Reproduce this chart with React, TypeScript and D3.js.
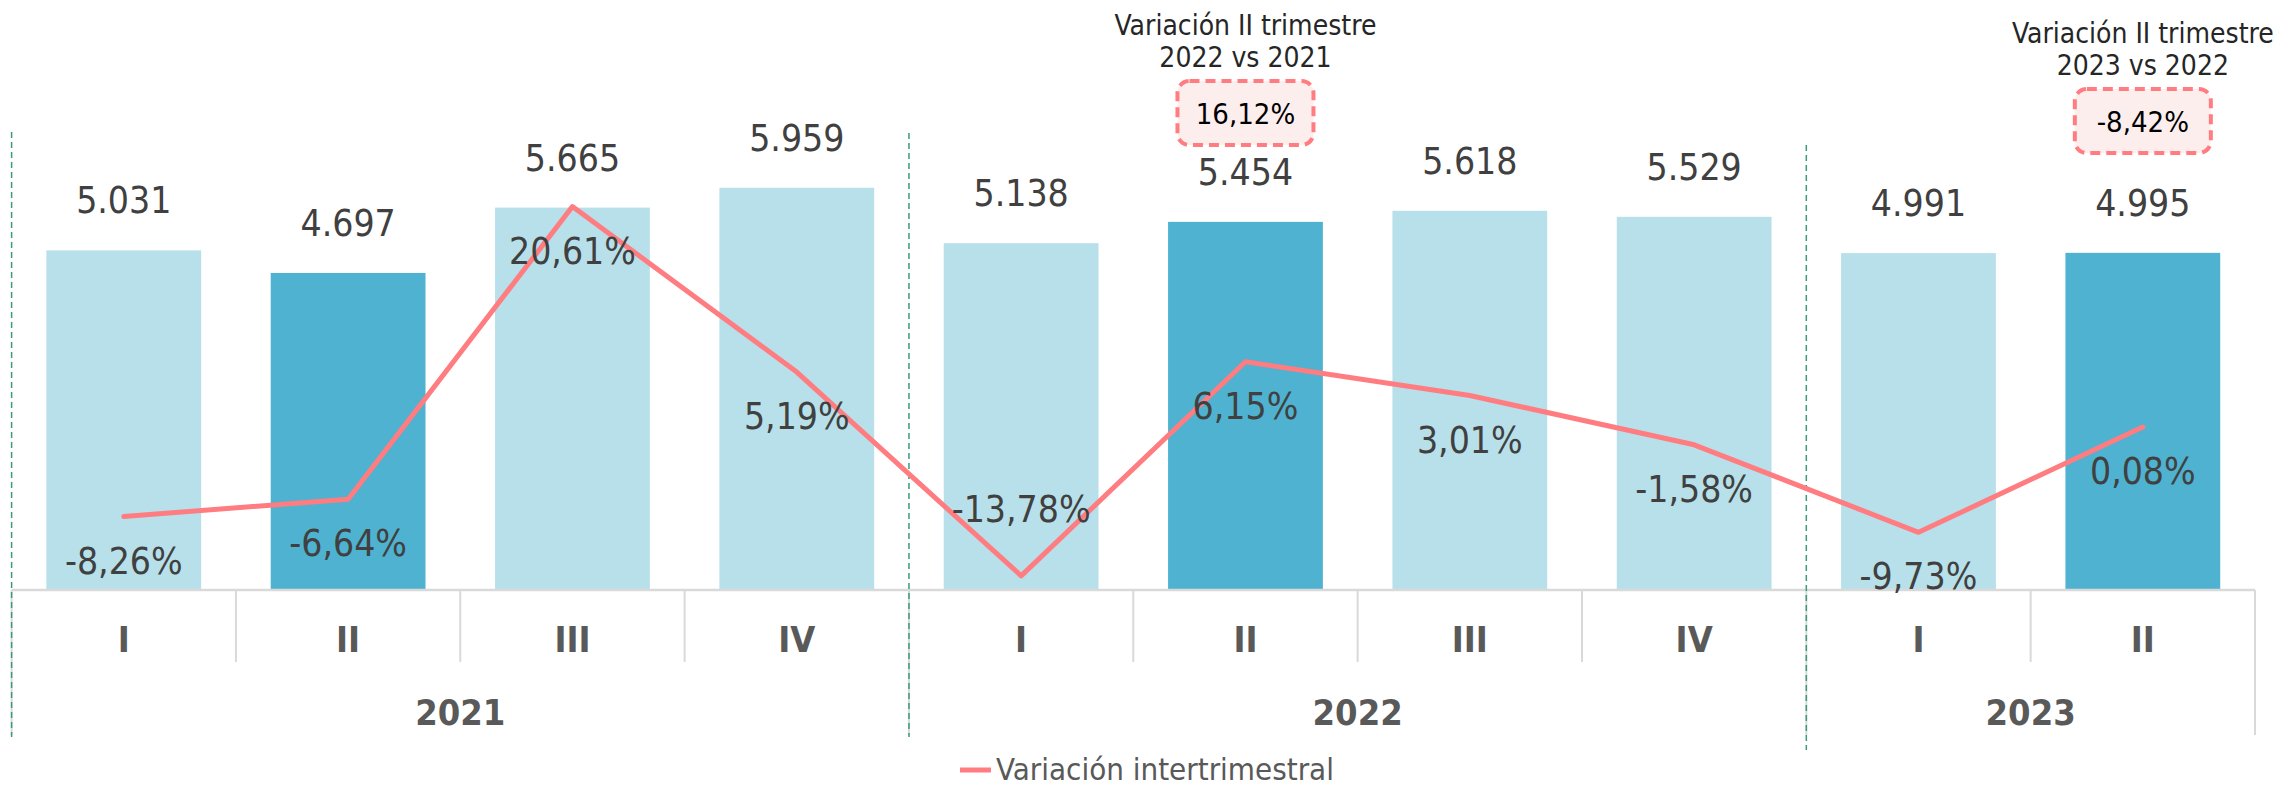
import React from 'react';
import * as d3 from 'd3';

const quarters = ['I', 'II', 'III', 'IV', 'I', 'II', 'III', 'IV', 'I', 'II'];
const years = ['2021', '2022', '2023'];
const yearQuarterCounts = [4, 4, 2];
const values = [5031, 4697, 5665, 5959, 5138, 5454, 5618, 5529, 4991, 4995];
const variation = [-8.26, -6.64, 20.61, 5.19, -13.78, 6.15, 3.01, -1.58, -9.73, 0.08];
const highlighted = [false, true, false, false, false, true, false, false, false, true];
const annotationIndex = [5, 9];
const annotationTitles = [
  ['Variación II trimestre', '2022 vs 2021'],
  ['Variación II trimestre', '2023 vs 2022'],
];
const annotationValues = ['16,12%', '-8,42%'];
const legendLabel = 'Variación intertrimestral';

const W = 2274;
const H = 790;
const LEFT = 11.6;
const RIGHT = 2255;
const AXIS_Y = 590;
const TOP_Y = 117.5;
const FONT = "'Liberation Sans Narrow', 'DejaVu Sans Condensed', 'Arial Narrow', sans-serif";
const LIGHT = '#B8E0EA';
const DARK = '#4EB2D0';
const LINE = '#FF7C80';
const TEXT = '#404040';
const AXIS_TEXT = '#595959';
const GRID = '#D9D9D9';
const GREEN = '#3A9A7E';

const locale = d3.formatLocale({
  decimal: ',',
  thousands: '.',
  grouping: [3],
  currency: ['', '€'],
  minus: '-',
});
const fmtVal = locale.format(',d');
const fmtPct = locale.format(',.2f');

export default function App() {
  const idx = values.map((_, i) => i);
  const x = d3.scaleBand<number>().domain(idx).range([LEFT, RIGHT]).paddingInner(0.31).paddingOuter(0.155);
  const step = x.step();
  const y = d3.scaleLinear().domain([0, 7000]).range([AXIS_Y, TOP_Y]);
  const y2 = d3.scaleLinear().domain([-15.1, 28.9]).range([AXIS_Y, TOP_Y]);
  const cx = (i: number) => (x(i) as number) + x.bandwidth() / 2;

  const linePath = d3
    .line<number>()
    .x((d, i) => cx(i))
    .y((d) => y2(d))(variation) as string;

  const bounds: number[] = [LEFT];
  let acc = 0;
  yearQuarterCounts.forEach((c) => {
    acc += c;
    bounds.push(LEFT + acc * step);
  });

  const annTop = [0, 8];
  const dashedTops = [132, 133, 145];
  const dashedBottoms = [737, 737, 750];

  return (
    <div style={{ position: 'absolute', left: 0, top: 0 }}>
      <svg width={W} height={H} style={{ display: 'block', background: '#fff' }}>
        {values.map((v, i) => (
          <rect
            key={'b' + i}
            x={x(i)}
            y={y(v)}
            width={x.bandwidth()}
            height={AXIS_Y - y(v)}
            fill={highlighted[i] ? DARK : LIGHT}
          />
        ))}
        <line x1={LEFT} x2={RIGHT} y1={AXIS_Y} y2={AXIS_Y} stroke={GRID} strokeWidth={2.5} />
        {idx.slice(1).map((i) => {
          const xx = LEFT + i * step;
          const isBound = bounds.some((b) => Math.abs(b - xx) < 1);
          return isBound ? null : (
            <line key={'t' + i} x1={xx} x2={xx} y1={AXIS_Y} y2={662} stroke={GRID} strokeWidth={2} />
          );
        })}
        {bounds.map((b, i) => (
          <line key={'gb' + i} x1={b} x2={b} y1={AXIS_Y} y2={735} stroke={GRID} strokeWidth={2} />
        ))}
        {bounds.slice(0, 3).map((b, i) => (
          <line
            key={'gd' + i}
            x1={b}
            x2={b}
            y1={dashedTops[i]}
            y2={dashedBottoms[i]}
            stroke={GREEN}
            strokeWidth={1.5}
            strokeDasharray="6 4"
          />
        ))}
        {quarters.map((q, i) => (
          <text
            key={'q' + i}
            x={cx(i)}
            y={652}
            textAnchor="middle"
            fontFamily={FONT}
            fontWeight="bold"
            fontSize={36}
            fill={AXIS_TEXT}
          >
            {q}
          </text>
        ))}
        {years.map((yr, i) => (
          <text
            key={'y' + i}
            x={(bounds[i] + bounds[i + 1]) / 2}
            y={725}
            textAnchor="middle"
            fontFamily={FONT}
            fontWeight="bold"
            fontSize={36}
            fill={AXIS_TEXT}
          >
            {yr}
          </text>
        ))}
        <path d={linePath} fill="none" stroke={LINE} strokeWidth={5} strokeLinejoin="round" strokeLinecap="round" />
        {values.map((v, i) => (
          <text
            key={'v' + i}
            x={cx(i)}
            y={y(v) - 37}
            textAnchor="middle"
            fontFamily={FONT}
            fontSize={37}
            fill={TEXT}
          >
            {fmtVal(v)}
          </text>
        ))}
        {variation.map((v, i) => {
          const py = y2(v);
          const below = py + 44 <= AXIS_Y;
          return (
            <text
              key={'p' + i}
              x={cx(i)}
              y={below ? py + 57 : py - 54}
              textAnchor="middle"
              fontFamily={FONT}
              fontSize={37}
              fill={TEXT}
            >
              {fmtPct(v) + '%'}
            </text>
          );
        })}
        {annotationIndex.map((ai, k) => {
          const c = cx(ai);
          const t = annTop[k];
          return (
            <g key={'a' + k}>
              {annotationTitles[k].map((line, j) => (
                <text
                  key={j}
                  x={c}
                  y={35 + t + j * 32}
                  textAnchor="middle"
                  fontFamily={FONT}
                  fontSize={28}
                  fill="#262626"
                >
                  {line}
                </text>
              ))}
              <rect
                x={c - 68}
                y={81 + t}
                width={136}
                height={64}
                rx={12}
                ry={12}
                fill="#FDEEEE"
                stroke={LINE}
                strokeWidth={4}
                strokeDasharray="10 6"
              />
              <text
                x={c}
                y={124 + t}
                textAnchor="middle"
                fontFamily={FONT}
                fontSize={29}
                fill="#000"
              >
                {annotationValues[k]}
              </text>
            </g>
          );
        })}
        <line x1={960} x2={991} y1={770} y2={770} stroke={LINE} strokeWidth={5} />
        <text x={996} y={780} fontFamily={FONT} fontSize={31} fill={AXIS_TEXT}>
          {legendLabel}
        </text>
      </svg>
    </div>
  );
}
